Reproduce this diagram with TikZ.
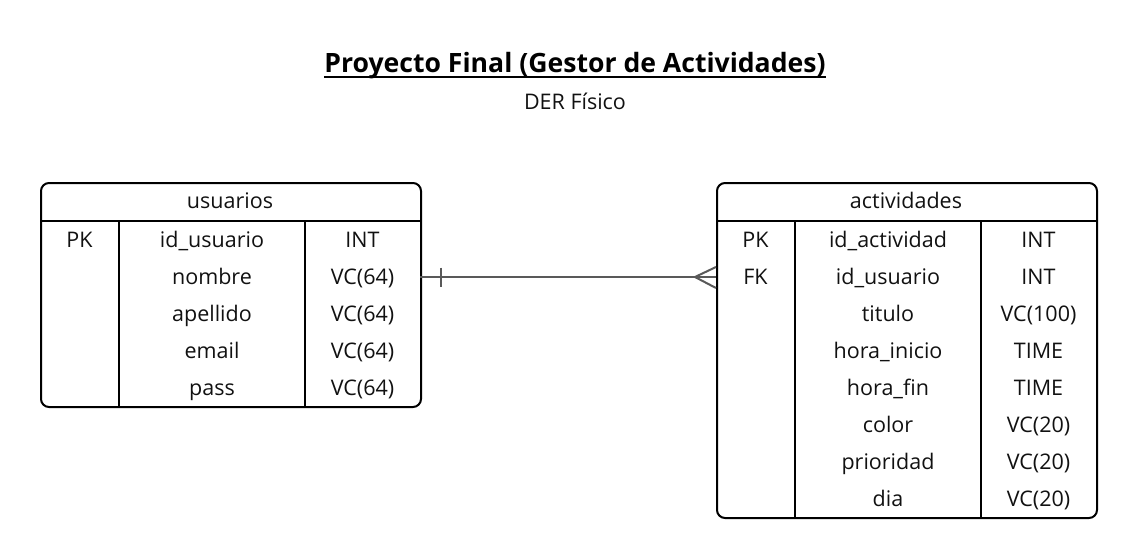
\documentclass[tikz,border=0pt]{standalone}
\usepackage{fontspec}
\setmainfont{Open Sans}
\definecolor{conncol}{HTML}{595959}
\definecolor{txt}{HTML}{111111}
\begin{document}
\begin{tikzpicture}[x=1pt,y=-1pt,
  tbl/.style={draw=black, line width=2pt, rounded corners=8pt, inner sep=0pt, anchor=north west},
  sep/.style={draw=black, line width=1.6pt},
  cell/.style={text=txt, font=\fontsize{21.5}{24}\selectfont, inner sep=0pt, anchor=base},
  conn/.style={draw=conncol, line width=2pt}]
\useasboundingbox (0,0) rectangle (1136,558);
% title
\node[inner sep=0pt, anchor=base, text=black, font=\fontsize{26.6}{31}\selectfont\bfseries] (title) at (575,72) {Proyecto Final (Gestor de Actividades)};
\draw[line width=2pt] ([yshift=-5pt]title.base west) -- ([yshift=-5pt]title.base east);
\node[inner sep=0pt, anchor=base, text=txt, font=\fontsize{21.5}{24}\selectfont] (subtitle) at (575,109) {DER Físico};
% usuarios table
\node[tbl, minimum width=380pt, minimum height=224pt] (usuarios) at (40,182) {};
\draw[sep] (40,221) -- (420,221);
\draw[sep] (119,221) -- (119,406);
\draw[sep] (305,221) -- (305,406);
\node[cell] (u-h) at (230,208) {usuarios};
\node[cell] (u-pk) at (79.5,247) {PK};
\node[cell] (u-c1) at (212,247) {id\_usuario};
\node[cell] (u-t1) at (362.5,247) {INT};
\node[cell] (u-c2) at (212,284) {nombre};
\node[cell] (u-t2) at (362.5,284) {VC(64)};
\node[cell] (u-c3) at (212,321) {apellido};
\node[cell] (u-t3) at (362.5,321) {VC(64)};
\node[cell] (u-c4) at (212,358) {email};
\node[cell] (u-t4) at (362.5,358) {VC(64)};
\node[cell] (u-c5) at (212,395) {pass};
\node[cell] (u-t5) at (362.5,395) {VC(64)};
% actividades table
\node[tbl, minimum width=380pt, minimum height=335pt] (actividades) at (716,182) {};
\draw[sep] (716,221) -- (1096,221);
\draw[sep] (795,221) -- (795,517);
\draw[sep] (981,221) -- (981,517);
\node[cell] (a-h) at (906,208) {actividades};
\node[cell] (a-pk) at (755.5,247) {PK};
\node[cell] (a-c1) at (888,247) {id\_actividad};
\node[cell] (a-t1) at (1038.5,247) {INT};
\node[cell] (a-fk) at (755.5,284) {FK};
\node[cell] (a-c2) at (888,284) {id\_usuario};
\node[cell] (a-t2) at (1038.5,284) {INT};
\node[cell] (a-c3) at (888,321) {titulo};
\node[cell] (a-t3) at (1038.5,321) {VC(100)};
\node[cell] (a-c4) at (888,358) {hora\_inicio};
\node[cell] (a-t4) at (1038.5,358) {TIME};
\node[cell] (a-c5) at (888,395) {hora\_fin};
\node[cell] (a-t5) at (1038.5,395) {TIME};
\node[cell] (a-c6) at (888,432) {color};
\node[cell] (a-t6) at (1038.5,432) {VC(20)};
\node[cell] (a-c7) at (888,469) {prioridad};
\node[cell] (a-t7) at (1038.5,469) {VC(20)};
\node[cell] (a-c8) at (888,506) {dia};
\node[cell] (a-t8) at (1038.5,506) {VC(20)};
% relationship
\coordinate (ue) at (420,277);
\coordinate (ae) at (716,277);
\draw[conn] (ue) -- (ae);
\draw[conn] ([xshift=21pt]ue) ++(0,-9.5) -- ++(0,19);
\draw[conn] ([yshift=10pt]ae) -- ([xshift=-21pt]ae) -- ([yshift=-11pt]ae);
\end{tikzpicture}
\end{document}
